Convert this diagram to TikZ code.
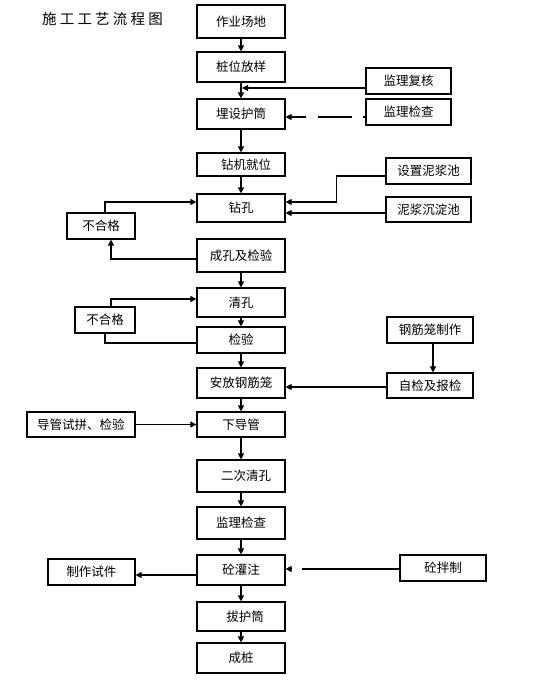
\documentclass[tikz,border=0pt]{standalone}
\usepackage{fontspec}
\newfontfamily\cjk{Noto Sans CJK SC}
\newfontfamily\cjktitle[LetterSpace=22]{Noto Sans CJK SC}
\usetikzlibrary{arrows.meta}
\begin{document}
\begin{tikzpicture}[x=1pt,y=-1pt,
  box/.style={draw,line width=1.2pt,rectangle,inner sep=0pt,font=\cjk\fontsize{12.5}{14}\selectfont},
  arr/.style={line width=1.1pt,-{Triangle[length=6pt,width=6pt]}},
  ln/.style={line width=1.1pt}]
\useasboundingbox (0,0) rectangle (552,681);
\fill[white] (0,0) rectangle (552,681);
% title
\node[font=\cjktitle\fontsize{14.5}{16}\selectfont] (title) at (102.5,19) {施工工艺流程图};
% main column
\node[box,minimum width=88pt,minimum height=33pt] (zycd) at (241,21.5) {作业场地};
\node[box,minimum width=88pt,minimum height=30pt] (zwfy) at (241,67) {桩位放样};
\node[box,minimum width=88pt,minimum height=30pt] (msh) at (241,114) {埋设护筒};
\node[box,minimum width=88pt,minimum height=23pt] (zjjw) at (241,164.5) {\hspace{10pt}钻机就位};
\node[box,minimum width=88pt,minimum height=28pt] (zk) at (241,208) {钻孔};
\node[box,minimum width=88pt,minimum height=33pt] (ckjy) at (241,255.5) {成孔及检验};
\node[box,minimum width=88pt,minimum height=29pt] (qk) at (241,302.5) {清孔};
\node[box,minimum width=88pt,minimum height=26pt] (jy) at (241,340) {检验\hspace{12pt}};
\node[box,minimum width=88pt,minimum height=30pt] (afgjl) at (241,383) {安放钢筋笼};
\node[box,minimum width=88pt,minimum height=25pt] (xdg) at (241,424.5) {下导管};
\node[box,minimum width=88pt,minimum height=32pt] (ecqk) at (241,476) {\hspace{10pt}二次清孔};
\node[box,minimum width=88pt,minimum height=32pt] (jljcb) at (241,523) {监理检查};
\node[box,minimum width=88pt,minimum height=30pt] (tgz) at (241,570) {砼灌注};
\node[box,minimum width=88pt,minimum height=29pt] (bhd) at (241,616.5) {\hspace{8pt}拔护筒};
\node[box,minimum width=88pt,minimum height=30pt] (cz) at (241,658) {成桩};
% side boxes
\node[box,minimum width=85pt,minimum height=26pt] (jlfh) at (408.5,81) {监理复核};
\node[box,minimum width=85pt,minimum height=26pt] (jljc) at (408.5,112) {监理检查};
\node[box,minimum width=85pt,minimum height=26pt] (sznjc) at (428.5,171) {设置泥浆池};
\node[box,minimum width=85pt,minimum height=25pt] (njcdc) at (428.5,209.5) {泥浆沉淀池};
\node[box,minimum width=68pt,minimum height=26pt] (bhga) at (101,226) {不合格\hspace{10pt}};
\node[box,minimum width=60pt,minimum height=26pt] (bhgb) at (105,320) {不合格\hspace{4pt}};
\node[box,minimum width=86pt,minimum height=26pt] (gjlzz) at (430,330) {钢筋笼制作};
\node[box,minimum width=86pt,minimum height=25pt] (zjjbj) at (430,385.5) {自检及报检};
\node[box,minimum width=108pt,minimum height=25pt] (dgsp) at (81,424.5) {导管试拼、检验};
\node[box,minimum width=87pt,minimum height=26pt] (zzsj) at (91.5,572) {制作试件\hspace{14pt}};
\node[box,minimum width=86pt,minimum height=26pt] (tbz) at (443,568) {砼拌制};
% main flow
\draw[arr] (zycd.south) -- (zwfy.north);
\draw[arr] (zwfy.south) -- (msh.north);
\draw[arr] (msh.south) -- (zjjw.north);
\draw[arr] (zjjw.south) -- (zk.north);
\draw[arr] (ckjy.south) -- (qk.north);
\draw[arr] (qk.south) -- (jy.north);
\draw[arr] (jy.south) -- (afgjl.north);
\draw[arr] (afgjl.south) -- (xdg.north);
\draw[arr] (xdg.south) -- (ecqk.north);
\draw[arr] (ecqk.south) -- (jljcb.north);
\draw[arr] (jljcb.south) -- (tgz.north);
\draw[arr] (tgz.south) -- (bhd.north);
\draw[arr] (bhd.south) -- (cz.north);
% side connectors
\draw[arr] ([yshift=-7pt]jlfh.west) -- ([yshift=-7pt,xshift=1pt]jlfh.west -| zwfy.south);
\draw[arr,dash pattern=on 34pt off 11.5pt,dash phase=32pt] ([yshift=-5pt]jljc.west) -- ([yshift=-5pt]jljc.west -| msh.east);
\draw[arr] ([yshift=-5pt]sznjc.west) -- ++(-49,0) |- ([yshift=6pt]zk.east);
\draw[arr] ([yshift=-3.5pt]njcdc.west) -- ([yshift=-3.5pt]njcdc.west -| zk.east);
\draw[arr] ([xshift=4pt]bhga.north) |- ([yshift=6pt]zk.west);
\draw[arr] ([yshift=-3.5pt]ckjy.west) -| ([xshift=10pt]bhga.south);
\draw[arr] ([xshift=6pt]bhgb.north) |- ([yshift=3.5pt]qk.west);
\draw[ln] ([yshift=-3pt]jy.west) -| (bhgb.south);
\draw[arr] ([xshift=3pt]gjlzz.south) -- ([xshift=3pt]zjjbj.north);
\draw[arr] ([yshift=-1.5pt]zjjbj.west) -- ([yshift=-1.5pt]zjjbj.west -| afgjl.east);
\draw[arr] (dgsp.east) -- (xdg.west);
\draw[arr] ([yshift=-5pt]tgz.west) -- ([yshift=-5pt]tgz.west -| zzsj.east);
\draw[arr,dash pattern=on 97pt off 11pt] ([yshift=-1pt]tbz.west) -- ([yshift=-1pt]tbz.west -| tgz.east);
\end{tikzpicture}
\end{document}
